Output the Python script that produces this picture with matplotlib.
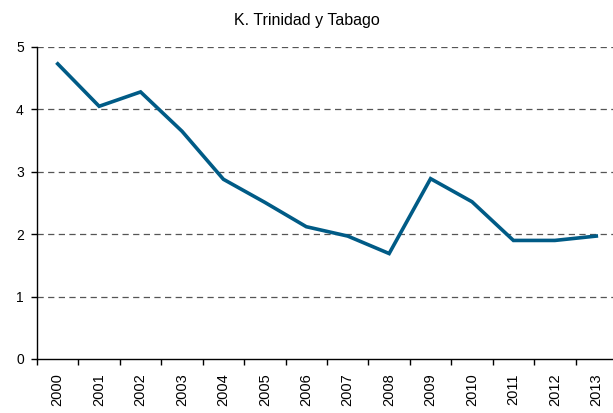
import numpy as np
import matplotlib.pyplot as plt

plt.rcParams['font.family'] = ['Liberation Sans', 'DejaVu Sans']

# data
YEARS = ['2000', '2001', '2002', '2003', '2004', '2005', '2006',
         '2007', '2008', '2009', '2010', '2011', '2012', '2013']
VALUES = [4.73, 4.05, 4.28, 3.65, 2.88, 2.51, 2.12,
          1.97, 1.69, 2.89, 2.52, 1.90, 1.90, 1.97]
TITLE = 'K. Trinidad y Tabago'


def main():
    fig = plt.figure(figsize=(6.13, 4.13), dpi=100)
    ax = fig.add_axes([37 / 613, 1 - 359 / 413, 580 / 613, 312 / 413])

    x = np.arange(len(YEARS))
    ax.plot(x, VALUES, color='#005b86', lw=2.6, solid_joinstyle='miter', zorder=3)

    ax.set_xlim(-0.5, len(YEARS) - 0.5)
    ax.set_ylim(0, 5)
    ax.set_yticks(range(0, 6))
    ax.tick_params(axis='y', labelsize=10, length=4.5, width=1, pad=5)

    ax.set_xticks(x)
    ax.set_xticklabels(YEARS, rotation=90, fontsize=10.5)
    ax.tick_params(axis='x', which='major', length=0, pad=10.5)
    ax.set_xticks(np.arange(-0.5, len(YEARS)), minor=True)
    ax.tick_params(axis='x', which='minor', length=4.5, width=1)

    for v in range(1, 6):
        ax.axhline(v, color='#555555', lw=0.9, ls=(0, (5, 3.5)), zorder=1)

    for s in ['top', 'right']:
        ax.spines[s].set_visible(False)
    ax.spines['left'].set_linewidth(1)
    ax.spines['bottom'].set_linewidth(1)

    fig.text(0.5, 1 - 20 / 413, TITLE, ha='center', va='center', fontsize=11.5)

    fig.savefig('out.png', dpi=100)


if __name__ == '__main__':
    main()
